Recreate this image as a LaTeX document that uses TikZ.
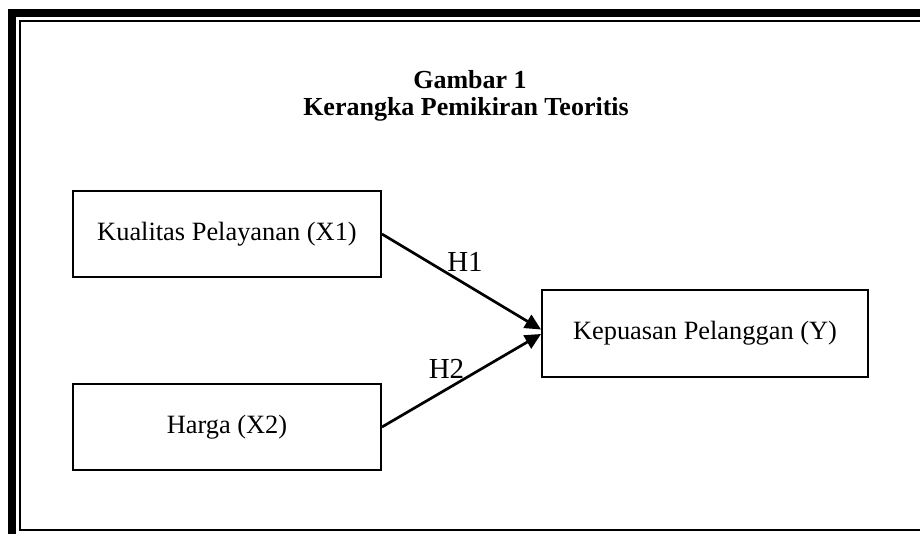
\documentclass[tikz,border=0pt]{standalone}
\usepackage{fontspec}
\setmainfont{Liberation Serif}
\usetikzlibrary{arrows.meta}
\begin{document}
\begin{tikzpicture}[x=1pt,y=-1pt,
  varbox/.style={draw=black,line width=1.9pt,minimum width=#1,minimum height=86pt,inner sep=0pt,
    font=\fontsize{26.4}{30}\selectfont},
  conn/.style={line width=2.7pt,-{Triangle[length=16pt,width=15pt]}},
  hlabel/.style={font=\fontsize{29}{32}\selectfont,inner sep=0pt},
  titletext/.style={font=\fontsize{26}{27}\bfseries\selectfont,align=center,inner sep=0pt}]
\useasboundingbox (0,0) rectangle (920,533);
\clip (0,0) rectangle (920,533);
\fill[white] (0,0) rectangle (920,533);
% frame
\draw[line width=8pt] (12,700) -- (12,13) -- (1100,13);
\draw[line width=2.5pt] (1100,530) -- (20,530) -- (20,21) -- (1100,21);
% title
\node[titletext,anchor=base] (t1) at (470,88) {Gambar 1};
\node[titletext,anchor=base] (t2) at (466,115) {Kerangka Pemikiran Teoritis};
% boxes
\node[varbox=308pt] (x1) at (227,234) {Kualitas Pelayanan (X1)};
\node[varbox=308pt] (x2) at (227,427) {Harga (X2)};
\node[varbox=326pt,minimum height=87pt] (y) at (705,333.5) {Kepuasan Pelanggan (Y)};
% connectors
\draw[conn] (x1.east) -- ([yshift=4pt]y.west);
\draw[conn] (x2.east) -- ([yshift=-0.5pt]y.west);
% labels
\node[hlabel] (h1) at (465,262) {H1};
\node[hlabel] (h2) at (446.5,369) {H2};
\end{tikzpicture}
\end{document}
